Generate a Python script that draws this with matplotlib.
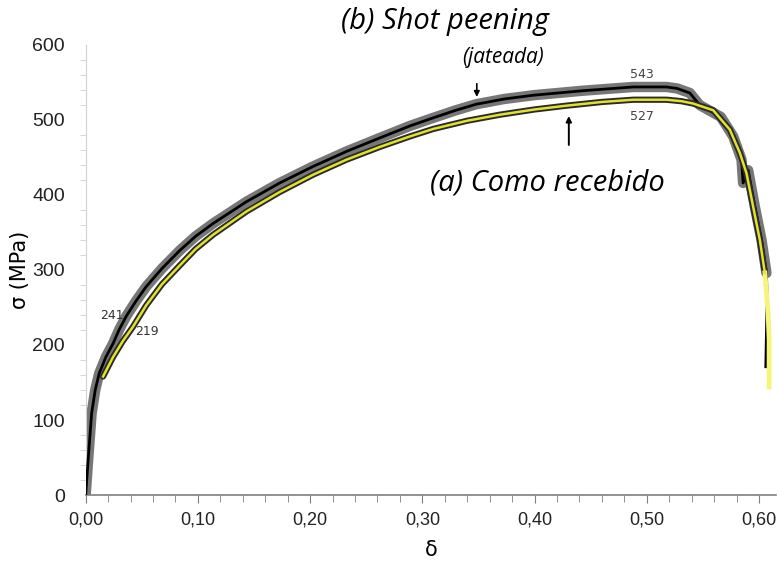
import numpy as np
import matplotlib
matplotlib.use("Agg")
import matplotlib.pyplot as plt
from matplotlib.ticker import MultipleLocator, FuncFormatter

# (b) shot peening (jateada) - curva preta
d_b = [0, 0.002, 0.0053, 0.0085, 0.012, 0.018, 0.0244, 0.030, 0.036, 0.045, 0.054, 0.068,
       0.0838, 0.098, 0.1135, 0.1432, 0.1729, 0.2026, 0.2323, 0.262, 0.2888, 0.31, 0.33,
       0.348, 0.373, 0.399, 0.443, 0.488, 0.5175, 0.527, 0.5383, 0.547, 0.566, 0.577,
       0.5844, 0.5858, 0.5903, 0.5963, 0.6022, 0.6066, 0.6072, 0.606]
s_b = [0, 43, 109, 140, 162, 184, 202, 221, 238, 259, 278, 302,
       326, 345, 362, 391, 416, 438, 458, 476, 492, 503, 513,
       521, 528, 533, 539, 544, 544, 542, 536, 520, 504, 478,
       447, 416, 433, 384, 340, 296, 264, 171]

# (a) como recebido - curva amarela
d_a = [0.0155, 0.0244, 0.033, 0.042, 0.054, 0.068, 0.0838, 0.098, 0.1135, 0.1432, 0.1729,
       0.2026, 0.2323, 0.262, 0.2888, 0.3096, 0.34, 0.369, 0.40, 0.428, 0.46, 0.488, 0.5175,
       0.531, 0.541, 0.5591, 0.574, 0.5829, 0.5888, 0.5948, 0.6007, 0.6052]
s_a = [158, 184, 205, 224, 253, 281, 306, 328, 347, 378, 404,
       427, 447, 464, 478, 488, 499, 507, 514, 519, 524, 527, 527,
       525, 522, 513, 487, 456, 429, 384, 340, 296]
d_tail = [0.6052, 0.6081, 0.609, 0.609]
s_tail = [296, 242, 207, 144]

fig = plt.figure(figsize=(7.79, 5.62), dpi=100)
ax = fig.add_axes([0.110, 0.1192, 0.886, 0.8008])

# halo + linha preta
ax.plot(d_b[:-2], s_b[:-2], color="#4a4a4a", lw=7.5, alpha=0.75, solid_capstyle="round",
        solid_joinstyle="round", zorder=2)
ax.plot(d_b, s_b, color="black", lw=2, zorder=3, solid_joinstyle="round")
# linha amarela com contorno
ax.plot(d_a, s_a, color="#2a2a2a", lw=4.5, zorder=4, solid_capstyle="round", solid_joinstyle="round")
ax.plot(d_a, s_a, color="#e2e22a", lw=1.8, zorder=5, solid_joinstyle="round")
ax.plot(d_tail, s_tail, color="#f5f57a", lw=3.5, zorder=4)

ax.set_xlim(0, 0.615)
ax.set_ylim(0, 600)
ax.xaxis.set_major_locator(MultipleLocator(0.1))
ax.xaxis.set_minor_locator(MultipleLocator(0.02))
ax.yaxis.set_major_locator(MultipleLocator(100))
ax.yaxis.set_minor_locator(MultipleLocator(20))
ax.xaxis.set_major_formatter(FuncFormatter(lambda v, p: f"{v:.2f}".replace(".", ",")))

for s in ["top", "right"]:
    ax.spines[s].set_visible(False)
ax.spines["left"].set_color("#d0d0d0")
ax.spines["bottom"].set_color("#808080")
ax.spines["bottom"].set_linewidth(1.2)

tf = "Liberation Sans"
ax.tick_params(axis="x", which="major", length=6, color="#808080", labelsize=13, pad=6)
ax.tick_params(axis="x", which="minor", length=5, color="#808080")
ax.tick_params(axis="y", which="major", length=0, labelsize=14, pad=15)
ax.tick_params(axis="y", which="minor", length=4, color="#d0d0d0")
for lab in ax.get_xticklabels() + ax.get_yticklabels():
    lab.set_fontfamily(tf)
    lab.set_color("#222222")

ax.set_xlabel("δ", fontsize=15, labelpad=8)
ax.set_ylabel("σ (MPa)", fontsize=15, fontfamily="DejaVu Sans")
ax.yaxis.set_label_coords(-0.08, 0.5)

# textos
ax.text(0.320, 631, "(b) Shot peening", fontsize=21, style="italic", ha="center", va="center",
        fontfamily="Open Sans", clip_on=False)
ax.text(0.3717, 583, "(jateada)", fontsize=15, style="italic", ha="center", va="center",
        fontfamily="Open Sans")
ax.text(0.4118, 416, "(a) Como recebido", fontsize=21, style="italic", ha="center", va="center",
        fontfamily="Open Sans")
ax.text(0.4955, 561, "543", fontsize=9, color="#444444", ha="center", va="center")
ax.text(0.4955, 505, "527", fontsize=9, color="#444444", ha="center", va="center")
ax.text(0.0232, 239, "241", fontsize=9, color="#333333", ha="center", va="center")
ax.text(0.0548, 218, "219", fontsize=9, color="#333333", ha="center", va="center")

ax.annotate("", xy=(0.3485, 527), xytext=(0.3485, 552),
            arrowprops=dict(arrowstyle="-|>", color="black", lw=1.2, mutation_scale=8))
ax.annotate("", xy=(0.4305, 509), xytext=(0.4305, 463),
            arrowprops=dict(arrowstyle="-|>", color="black", lw=1.4, mutation_scale=8))

fig.savefig("out.png", dpi=100)
